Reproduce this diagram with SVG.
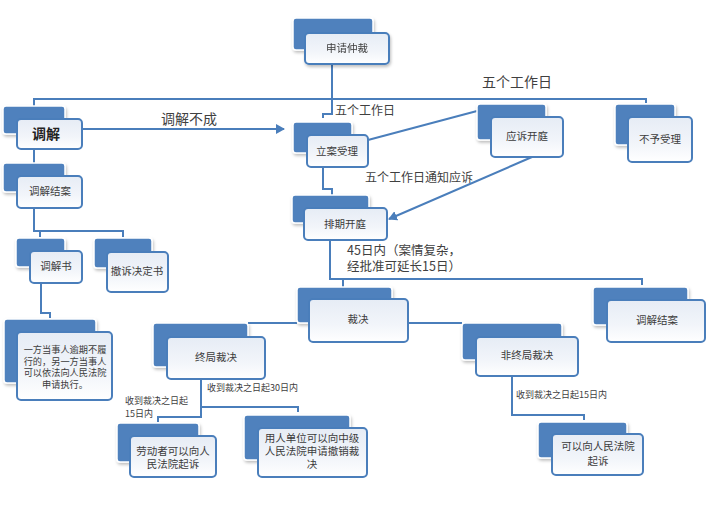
<svg xmlns="http://www.w3.org/2000/svg" width="716" height="509" viewBox="0 0 716 509">
<style>
  .bk{fill:#4f81bd;stroke:#ffffff;stroke-width:1.5}
  .fr{fill:url(#g);stroke:#4a7ebb;stroke-width:2}
  .t{font-family:"Noto Sans CJK SC","Liberation Sans",sans-serif;font-size:10.5px;fill:#3c3c3c;text-anchor:middle}
  .s{font-family:"Noto Sans CJK SC","Liberation Sans",sans-serif;fill:#404040}
  .c{fill:none;stroke:#4a7ebb;stroke-width:2}
</style>
<defs>
  <linearGradient id="g" x1="0" y1="0" x2="0" y2="1">
    <stop offset="0" stop-color="#e6ecf5"/>
    <stop offset="0.6" stop-color="#f2f5fa"/>
    <stop offset="1" stop-color="#ffffff"/>
  </linearGradient>
  <filter id="sh" x="-10%" y="-10%" width="130%" height="140%">
    <feDropShadow dx="1" dy="2" stdDeviation="1.5" flood-color="#000" flood-opacity="0.25"/>
  </filter>
  <marker id="ar" markerWidth="10" markerHeight="10" refX="8" refY="5" orient="auto" markerUnits="userSpaceOnUse">
    <path d="M0,0 L9,5 L0,10 Z" fill="#4a7ebb"/>
  </marker>
</defs>
<rect width="716" height="509" fill="#ffffff"/>

<g id="connectors">
  <path class="c" d="M332,64 V99"/>
  <path class="c" d="M34,106 V99 H646 V103"/>
  <path class="c" d="M332,99 V114 H323 V118"/>
  <path class="c" d="M34,149 V163"/>
  <path class="c" d="M368,140 L477,111"/>
  <path class="c" d="M82,129 H284" marker-end="url(#ar)"/>
  <path class="c" d="M323,167 V189 H332 V195"/>
  <path class="c" d="M532,157 L389,219" marker-end="url(#ar)"/>
  <path class="c" d="M330,240 V279 H642 V285"/>
  <path class="c" d="M343,279 V287"/>
  <path class="c" d="M297,323 H248"/>
  <path class="c" d="M408,323 H462"/>
  <path class="c" d="M201,379 V417 H158 V422"/>
  <path class="c" d="M201,407 H298 V412"/>
  <path class="c" d="M512,376 V415 H584 V420"/>
  <path class="c" d="M34,208 V231 H123 V237"/>
  <path class="c" d="M40,231 V237"/>
  <path class="c" d="M41,283 V313 H50 V318"/>
</g>

<g id="labels">
  <text class="s" x="517" y="87" style="font-size:14px" text-anchor="middle">五个工作日</text>
  <text class="s" x="335" y="115" style="font-size:12px">五个工作日</text>
  <text class="s" x="189" y="124" style="font-size:14px" text-anchor="middle">调解不成</text>
  <text class="s" x="365" y="182" style="font-size:12px">五个工作日通知应诉</text>
  <text class="s" x="347" y="255" style="font-size:12.5px">45日内（案情复杂，</text>
  <text class="s" x="347" y="271" style="font-size:12.5px">经批准可延长15日）</text>
  <text class="s" x="207" y="391" style="font-size:9px">收到裁决之日起30日内</text>
  <text class="s" x="125" y="404" style="font-size:9px">收到裁决之日起</text>
  <text class="s" x="125" y="417" style="font-size:9px">15日内</text>
  <text class="s" x="516" y="398" style="font-size:9px">收到裁决之日起15日内</text>
</g>

<g id="n-apply" filter="url(#sh)">
  <rect class="bk" x="293" y="18" width="80" height="32" rx="3"/>
  <rect class="fr" x="305" y="33" width="84" height="31" rx="4"/>
  <text class="t" x="347" y="52">申请仲裁</text>
</g>
<g id="n-mediate">
  <rect class="bk" x="3" y="106" width="62" height="28" rx="3" filter="url(#sh)"/>
  <rect class="fr" x="17" y="119" width="65" height="30" rx="4"/>
  <text class="s" x="46" y="139" style="font-size:14px;font-weight:bold;fill:#222" text-anchor="middle">调解</text>
</g>
<g id="n-accept">
  <rect class="bk" x="293" y="122" width="59" height="31" rx="3" filter="url(#sh)"/>
  <rect class="fr" x="307" y="135" width="61" height="32" rx="4"/>
  <text class="t" x="337" y="155">立案受理</text>
</g>
<g id="n-respond">
  <rect class="bk" x="477" y="104" width="69" height="36" rx="3" filter="url(#sh)"/>
  <rect class="fr" x="491" y="117" width="72" height="40" rx="4"/>
  <text class="t" x="527" y="140">应诉开庭</text>
</g>
<g id="n-reject">
  <rect class="bk" x="615" y="104" width="60" height="41" rx="3" filter="url(#sh)"/>
  <rect class="fr" x="628" y="117" width="64" height="45" rx="4"/>
  <text class="t" x="660" y="143">不予受理</text>
</g>
<g id="n-settle-left">
  <rect class="bk" x="3" y="163" width="62" height="29" rx="3" filter="url(#sh)"/>
  <rect class="fr" x="17" y="176" width="65" height="32" rx="4"/>
  <text class="t" x="50" y="195">调解结案</text>
</g>
<g id="n-schedule">
  <rect class="bk" x="292" y="195" width="77" height="28" rx="3" filter="url(#sh)"/>
  <rect class="fr" x="304" y="208" width="83" height="32" rx="4"/>
  <text class="t" x="345" y="228">排期开庭</text>
</g>
<g id="n-mediation-doc">
  <rect class="bk" x="16" y="238" width="49" height="29" rx="3" filter="url(#sh)"/>
  <rect class="fr" x="30" y="251" width="52" height="32" rx="4"/>
  <text class="t" x="56" y="270">调解书</text>
</g>
<g id="n-withdraw">
  <rect class="bk" x="94" y="238" width="58" height="30" rx="3" filter="url(#sh)"/>
  <rect class="fr" x="107" y="252" width="61" height="40" rx="4"/>
  <text class="t" x="137" y="275">撤诉决定书</text>
</g>
<g id="n-award">
  <rect class="bk" x="297" y="287" width="95" height="36" rx="3" filter="url(#sh)"/>
  <rect class="fr" x="309" y="299" width="99" height="43" rx="4"/>
  <text class="t" x="358" y="323">裁决</text>
</g>
<g id="n-settle-right">
  <rect class="bk" x="593" y="287" width="95" height="38" rx="3" filter="url(#sh)"/>
  <rect class="fr" x="607" y="300" width="98" height="42" rx="4"/>
  <text class="t" x="657" y="324">调解结案</text>
</g>
<g id="n-enforce">
  <rect class="bk" x="4" y="319" width="92" height="64" rx="3" filter="url(#sh)"/>
  <rect class="fr" x="17" y="332" width="95" height="68" rx="4"/>
  <text class="t" x="65" y="353" style="font-size:9.2px">一方当事人逾期不履</text>
  <text class="t" x="65" y="364.5" style="font-size:9.2px">行的，另一方当事人</text>
  <text class="t" x="65" y="376" style="font-size:9.2px">可以依法向人民法院</text>
  <text class="t" x="65" y="387.5" style="font-size:9.2px">申请执行。</text>
</g>
<g id="n-final">
  <rect class="bk" x="153" y="323" width="95" height="44" rx="3" filter="url(#sh)"/>
  <rect class="fr" x="167" y="337" width="98" height="42" rx="4"/>
  <text class="t" x="216" y="361">终局裁决</text>
</g>
<g id="n-nonfinal">
  <rect class="bk" x="462" y="323" width="100" height="37" rx="3" filter="url(#sh)"/>
  <rect class="fr" x="476" y="337" width="102" height="39" rx="4"/>
  <text class="t" x="527" y="359">非终局裁决</text>
</g>
<g id="n-worker-sue">
  <rect class="bk" x="117" y="423" width="82" height="39" rx="3" filter="url(#sh)"/>
  <rect class="fr" x="130" y="436" width="86" height="41" rx="4"/>
  <text class="t" x="173" y="455">劳动者可以向人</text>
  <text class="t" x="173" y="467.5">民法院起诉</text>
</g>
<g id="n-employer">
  <rect class="bk" x="244" y="415" width="106" height="45" rx="3" filter="url(#sh)"/>
  <rect class="fr" x="258" y="428" width="109" height="49" rx="4"/>
  <text class="t" x="312" y="442">用人单位可以向中级</text>
  <text class="t" x="312" y="455">人民法院申请撤销裁</text>
  <text class="t" x="312" y="468">决</text>
</g>
<g id="n-sue">
  <rect class="bk" x="538" y="422" width="89" height="36" rx="3" filter="url(#sh)"/>
  <rect class="fr" x="552" y="434" width="91" height="41" rx="4"/>
  <text class="t" x="598" y="450">可以向人民法院</text>
  <text class="t" x="598" y="465">起诉</text>
</g>
</svg>
